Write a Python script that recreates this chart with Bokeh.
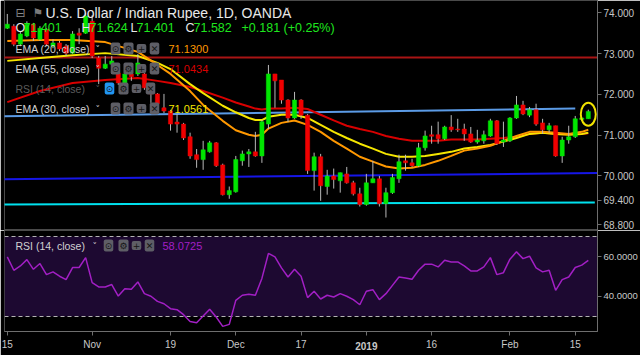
from bokeh.plotting import figure
from bokeh.models import (ColumnDataSource, Range1d, FixedTicker, Label, PrintfTickFormatter,
                          LinearAxis)
from bokeh.layouts import column
from bokeh.embed import file_html
from bokeh.resources import INLINE

# ---------------- data ----------------
opens = [73.62, 73.67, 73.23, 73.43, 73.72, 73.35, 73.60, 73.18, 73.26, 73.18,
         73.01, 73.50, 73.50, 73.79, 72.89, 72.64, 72.74, 72.52, 72.28, 72.50,
         72.50, 72.50, 72.06, 72.01, 71.67, 71.59, 71.32, 71.27, 70.96, 70.52,
         70.40, 70.59, 70.81, 70.27, 69.54, 69.61, 70.37, 70.54, 70.59, 70.49,
         71.27, 72.50, 72.35, 71.86, 71.42, 71.86, 71.49, 70.13, 70.47, 69.74,
         70.00, 69.88, 70.05, 69.83, 69.56, 69.30, 69.83, 69.93, 69.32, 69.59,
         69.93, 70.37, 70.32, 70.25, 70.69, 71.01, 71.01, 70.91, 71.20, 71.15,
         71.15, 71.03, 70.83, 70.86, 70.98, 71.35, 70.83, 70.86, 71.42, 71.74,
         71.49, 71.62, 71.30, 71.13, 71.23, 70.49, 70.88, 70.96, 71.38, 71.401]
highs = [73.97, 73.72, 73.55, 73.79, 73.75, 73.67, 73.62, 73.35, 73.31, 73.23,
         73.55, 73.62, 74.00, 73.94, 72.94, 72.94, 72.94, 72.57, 72.55, 72.62,
         72.99, 72.52, 72.11, 72.03, 72.01, 71.62, 71.52, 71.30, 71.06, 70.66,
         70.86, 70.86, 70.83, 70.30, 69.74, 70.49, 70.62, 70.66, 71.08, 71.37,
         72.72, 72.50, 72.35, 71.88, 72.06, 71.88, 71.52, 70.57, 70.54, 70.15,
         70.18, 70.08, 70.22, 69.88, 69.71, 70.05, 70.37, 70.00, 69.71, 70.05,
         70.52, 70.52, 70.42, 70.81, 71.11, 71.23, 71.33, 71.23, 71.49, 71.40,
         71.28, 71.20, 71.13, 71.11, 71.40, 71.37, 71.33, 71.44, 71.96, 71.84,
         71.69, 71.77, 71.40, 71.30, 71.23, 70.96, 71.23, 71.47, 71.44, 71.624]
lows = [73.60, 73.18, 73.18, 73.40, 73.31, 73.31, 73.18, 73.13, 73.06, 72.94,
        72.99, 73.23, 73.48, 72.89, 72.25, 72.62, 72.50, 72.23, 72.25, 72.33,
        72.45, 72.11, 71.79, 71.72, 71.54, 71.11, 71.06, 70.88, 70.42, 70.20,
        70.15, 70.57, 70.22, 69.52, 69.44, 69.59, 70.25, 70.22, 70.47, 70.32,
        71.15, 71.67, 71.77, 71.32, 71.40, 71.40, 70.05, 69.64, 69.39, 69.54,
        69.69, 69.59, 69.81, 69.52, 69.25, 69.27, 69.83, 69.25, 68.98, 69.56,
        69.83, 70.13, 70.22, 70.22, 70.62, 70.79, 70.79, 70.88, 71.08, 71.08,
        70.86, 70.81, 70.79, 70.79, 70.96, 70.76, 70.71, 70.83, 71.40, 71.49,
        71.44, 71.23, 71.03, 71.06, 70.47, 70.32, 70.79, 70.93, 71.35, 71.401]
closes = [73.72, 73.23, 73.48, 73.72, 73.38, 73.62, 73.23, 73.26, 73.11, 73.01,
          73.48, 73.45, 73.92, 72.94, 72.64, 72.74, 72.82, 72.28, 72.50, 72.43,
          72.77, 72.16, 72.01, 71.77, 71.59, 71.27, 71.27, 70.93, 70.49, 70.40,
          70.64, 70.81, 70.25, 69.54, 69.64, 70.40, 70.54, 70.59, 70.49, 71.33,
          72.50, 72.33, 71.86, 71.42, 71.86, 71.49, 70.13, 70.47, 69.76, 70.00,
          69.91, 70.08, 69.83, 69.56, 69.30, 69.83, 69.93, 69.32, 69.59, 69.96,
          70.35, 70.32, 70.25, 70.69, 70.98, 70.97, 70.91, 71.20, 71.13, 71.13,
          71.03, 70.83, 70.88, 71.01, 71.35, 70.79, 70.88, 71.42, 71.74, 71.52,
          71.62, 71.27, 71.13, 71.23, 70.49, 70.88, 70.96, 71.40, 71.42, 71.582]

ema_idx = [0, 5, 10, 15, 20, 23, 25, 28, 30, 33, 35, 37, 38, 39, 40, 42, 44, 46, 48, 50,
           52, 54, 56, 58, 60, 62, 64, 66, 68, 70, 72, 74, 76, 78, 80, 82, 84, 86, 88, 89]
ema20 = [73.31, 73.33, 73.33, 73.28, 73.04, 72.72, 72.50, 72.08, 71.74, 71.35,
         71.12, 71.01, 70.98, 71.01, 71.16, 71.30, 71.36, 71.25, 71.08, 70.86,
         70.67, 70.47, 70.35, 70.23, 70.18, 70.20, 70.27, 70.37, 70.49, 70.62,
         70.67, 70.74, 70.86, 70.98, 71.08, 71.08, 71.06, 71.03, 71.08, 71.13]
ema30 = [72.82, 72.89, 72.96, 73.01, 72.94, 72.77, 72.62, 72.25, 72.03, 71.72,
         71.56, 71.42, 71.37, 71.37, 71.45, 71.50, 71.50, 71.42, 71.25, 71.08,
         70.93, 70.79, 70.67, 70.54, 70.47, 70.47, 70.49, 70.54, 70.59, 70.67,
         70.71, 70.76, 70.84, 70.93, 71.03, 71.06, 71.03, 71.01, 71.03, 71.056]
ema55 = [71.81, 72.08, 72.28, 72.35, 72.40, 72.33, 72.28, 72.18, 72.08, 71.92,
         71.80, 71.70, 71.65, 71.63, 71.65, 71.65, 71.67, 71.64, 71.50, 71.36,
         71.23, 71.15, 71.08, 70.98, 70.91, 70.86, 70.86, 70.86, 70.89, 70.89,
         70.89, 70.91, 70.93, 70.96, 71.03, 71.06, 71.03, 71.02, 71.03, 71.043]

rsi = [59.9, 53.1, 55.3, 58.5, 53.6, 56.5, 50.9, 52.3, 50.1, 48.4,
       54.5, 54.5, 59.5, 46.9, 44.7, 44.7, 45.9, 40.1, 43.8, 43.5,
       47.2, 41.3, 40.0, 37.4, 36.2, 33.7, 33.2, 30.7, 27.3, 26.6,
       30.0, 33.4, 29.5, 24.8, 25.8, 37.9, 40.5, 41.0, 40.5, 49.0,
       61.6, 59.9, 54.3, 49.7, 53.6, 50.1, 39.3, 42.5, 38.6, 40.5,
       39.6, 41.3, 40.0, 38.3, 35.7, 42.5, 43.3, 38.3, 41.3, 45.5,
       49.7, 49.2, 48.6, 53.1, 56.2, 56.2, 54.8, 58.2, 57.3, 57.3,
       55.3, 52.8, 52.8, 54.8, 59.5, 50.9, 51.9, 58.7, 62.4, 59.0,
       60.2, 54.3, 52.3, 53.1, 43.0, 48.4, 49.7, 54.5, 55.7, 58.07]

# drawn lines: start bar, start price, end bar, end price
line_x0 = [-1, -1, -1, -1]
line_y0 = [72.90, 71.46, 69.92, 69.30]
line_x1 = [91, 87, 91, 90]
line_y1 = [72.90, 71.65, 70.07, 69.35]
line_colors = ["#a81414", "#5b9be6", "#1616e8", "#00e1ee"]

rsi_levels = [30, 70]
price_ticks = [68.8, 69.4, 70.0, 71.0, 72.0, 73.0, 74.0]
rsi_ticks = [40, 60]
date_tick_idx = [0, 13, 25, 35, 45, 55, 65, 77, 87]
date_tick_labels = ["15", "Nov", "19", "Dec", "17", "2019", "16", "Feb", "15"]
year_label = "2019"

title = "U.S. Dollar / Indian Rupee, 1D, OANDA"
ema_values = {"EMA (20, close)": "71.1300", "EMA (55, close)": "71.0434", "EMA (30, close)": "71.0561"}
rsi_value = "58.0725"

# ---------------- styling ----------------
BG = "#000000"
AX = "#6e6e6e"
TXT = "#c8c8c8"
GREEN = "#00e600"
RED = "#f00000"
C20, C30, C55 = "#ff9800", "#f5e600", "#d80000"
RSI_C = "#a21fc4"
FONT = "Liberation Sans"
LEFT = 4                 # frame left offset in pixels

x_range = Range1d(-0.43, 90.41)

MAIN_H, RSI_H, RSI_BOTTOM = 230, 125, 24
p = figure(width=640, height=MAIN_H, x_range=x_range, y_range=Range1d(68.662, 74.30),
           output_backend="svg", toolbar_location=None, x_axis_location=None,
           y_axis_location="right", background_fill_color=BG, border_fill_color=BG,
           min_border_left=LEFT, min_border_right=41, min_border_top=0, min_border_bottom=0)
p.outline_line_color = "#4a4a4a"
p.grid.visible = False
ya = p.yaxis[0]
ya.ticker = FixedTicker(ticks=price_ticks)
ya.formatter = PrintfTickFormatter(format="%.3f")

r = figure(width=640, height=RSI_H, x_range=x_range, y_range=Range1d(22.20, 73.19),
           output_backend="svg", toolbar_location=None, y_axis_location="right",
           background_fill_color=BG, border_fill_color=BG,
           min_border_left=LEFT, min_border_right=41, min_border_top=0,
           min_border_bottom=RSI_BOTTOM)
r.outline_line_color = "#4a4a4a"
r.grid.visible = False
ra = r.yaxis[0]
ra.ticker = FixedTicker(ticks=rsi_ticks)
ra.formatter = PrintfTickFormatter(format="%.4f")
xa = r.xaxis[0]
xa.ticker = FixedTicker(ticks=date_tick_idx)
xa.major_label_overrides = {i: (s if s != year_label else "") for i, s in zip(date_tick_idx, date_tick_labels)}

for ax, fs in ((ya, "10px"), (ra, "9.5px"), (xa, "10px")):
    ax.axis_line_color = AX
    ax.major_tick_line_color = AX
    ax.major_tick_out = 4
    ax.major_tick_in = 0
    ax.minor_tick_line_color = None
    ax.major_label_text_color = TXT
    ax.major_label_text_font = FONT
    ax.major_label_text_font_size = fs
ya.major_label_standoff = 2
ra.major_label_standoff = 2
xa.major_label_standoff = 3

# second (label-only) time axis carrying the bold year label, pulled up into the same row
year_tick = [i for i, s in zip(date_tick_idx, date_tick_labels) if s == year_label]
xb = LinearAxis(ticker=FixedTicker(ticks=year_tick),
                major_label_overrides={year_tick[0]: year_label},
                axis_line_color=None, major_tick_line_color=None, minor_tick_line_color=None,
                major_tick_out=0, major_tick_in=0, major_label_standoff=-11,
                major_label_text_color=TXT, major_label_text_font=FONT,
                major_label_text_font_size="10px", major_label_text_font_style="bold")
r.add_layout(xb, "below")

# drawn lines
p.segment(x0=line_x0, y0=line_y0, x1=line_x1, y1=line_y1, line_color=line_colors, line_width=2)

# EMAs
p.line(ema_idx, ema55, line_color=C55, line_width=2)
p.line(ema_idx, ema30, line_color=C30, line_width=2)
p.line(ema_idx, ema20, line_color=C20, line_width=2)

# candles
idx = list(range(len(closes)))
colors = [GREEN if c >= o else RED for o, c in zip(opens, closes)]
src = ColumnDataSource(dict(x=idx, h=highs, l=lows,
                            top=[max(o, c) for o, c in zip(opens, closes)],
                            bottom=[min(o, c) for o, c in zip(opens, closes)],
                            color=colors))
p.segment(x0="x", y0="h", x1="x", y1="l", source=src, line_color="#b8b8b8", line_width=1)
p.vbar(x="x", width=0.64, top="top", bottom="bottom", source=src,
       fill_color="color", line_color="color", line_width=0.5)

# highlight around the last candle
p.ellipse(x=[idx[-1]], y=[(highs[-1] + lows[-1]) / 2], width=15, height=23,
          width_units="screen", height_units="screen", fill_alpha=0,
          line_color="#f2e200", line_width=2)

# price marker on the axis (screen x is measured from the frame's left edge)
p.add_layout(Label(x=603 - LEFT, x_units="screen", y=closes[-1], y_units="data",
                   text="%.3f" % closes[-1], text_font=FONT, text_font_size="10px",
                   text_color="#3f8f3f", text_baseline="middle", text_align="left",
                   background_fill_color="#00f000", padding=3))


def lab(fig, top, fh, x, ytop, text, color, size="11px", font=FONT, bold=False,
        align="left", bg=None, pad=0, radius=0):
    # x, ytop: page pixels from the top-left; screen units are frame-relative (y up)
    l = Label(x=x - LEFT, y=fh - (ytop - top), x_units="screen", y_units="screen",
              text=text, text_color=color, text_font=font, text_font_size=size,
              text_font_style="bold" if bold else "normal",
              text_baseline="middle", text_align=align)
    if bg is not None:
        l.background_fill_color = bg
        l.padding = pad
        l.border_radius = radius
    fig.add_layout(l)


def buttons(fig, top, fh, xs, ytop, first_bg="#5e5e66"):
    glyphs = ["⊙", "⚙", "+", "✕"]
    for k, (cx, g) in enumerate(zip(xs, glyphs)):
        bg = first_bg if k == 0 else "#5e5e66"
        lab(fig, top, fh, cx, ytop, g, "#151515", size="9px", font="DejaVu Sans",
            align="center", bg=bg, pad=1, radius=2)


M = (p, 0, MAIN_H)
R = (r, MAIN_H, RSI_H - RSI_BOTTOM)

# header
lab(*M, 15, 12, "⊟", "#8a8a8a", size="12px", font="DejaVu Sans")
lab(*M, 32, 12, "⚑", "#7a7a7a", size="12px", font="DejaVu Sans")
lab(*M, 45, 12, title, "#e8e8e8", size="14px")
lab(*M, 284, 12, "˅", "#bbbbbb", size="10px", font="DejaVu Sans")

ohlc_vals = ["%.3f" % opens[-1], "%.3f" % highs[-1], "%.3f" % lows[-1], "%.3f" % closes[-1]]
for letter, v, xl, xv in zip("OHLC", ohlc_vals, [15, 81, 130, 185], [23, 89, 136, 193]):
    lab(*M, xl, 27, letter, "#e8e8e8", size="12.5px")
    lab(*M, xv, 27, v, "#1ee61e", size="12.5px")
lab(*M, 241, 27, "+0.181 (+0.25%)", "#1ee61e", size="12.5px")

rows = [("EMA (20, close)", 48, C20, False), ("EMA (55, close)", 68, C55, False),
        ("RSI (14, close)", 88, None, True), ("EMA (30, close)", 108, C30, False)]
for name, yt, col, hidden in rows:
    tc = "#5c5c5c" if hidden else "#d2d2d2"
    lab(*M, 15, yt, name, tc, size="10.5px")
    lab(*M, 95, yt, "˅", tc, size="9px", font="DejaVu Sans")
    if hidden:
        buttons(*M, [109, 123, 136, 150], yt, first_bg="#2196f3")
    else:
        buttons(*M, [115, 128, 141, 154], yt)
        lab(*M, 168, yt, ema_values[name], col, size="11px")

# ---------------- RSI panel ----------------
r.hstrip(y0=[rsi_levels[0]], y1=[rsi_levels[1]], fill_color="#1d0931", line_alpha=0)
r.hspan(y=rsi_levels, line_color="#b4b4b4", line_dash="4 3", line_width=1)
r.line(idx, rsi, line_color=RSI_C, line_width=1.5)

lab(*R, 15, 245, "RSI (14, close)", "#d2d2d2", size="10.5px")
lab(*R, 92, 245, "˅", "#d2d2d2", size="9px", font="DejaVu Sans")
buttons(*R, [108, 123, 136, 149], 245)
lab(*R, 162, 245, rsi_value, RSI_C, size="11px")

layout = column(p, r, spacing=0)
open("out.html", "w").write(file_html(layout, INLINE))
